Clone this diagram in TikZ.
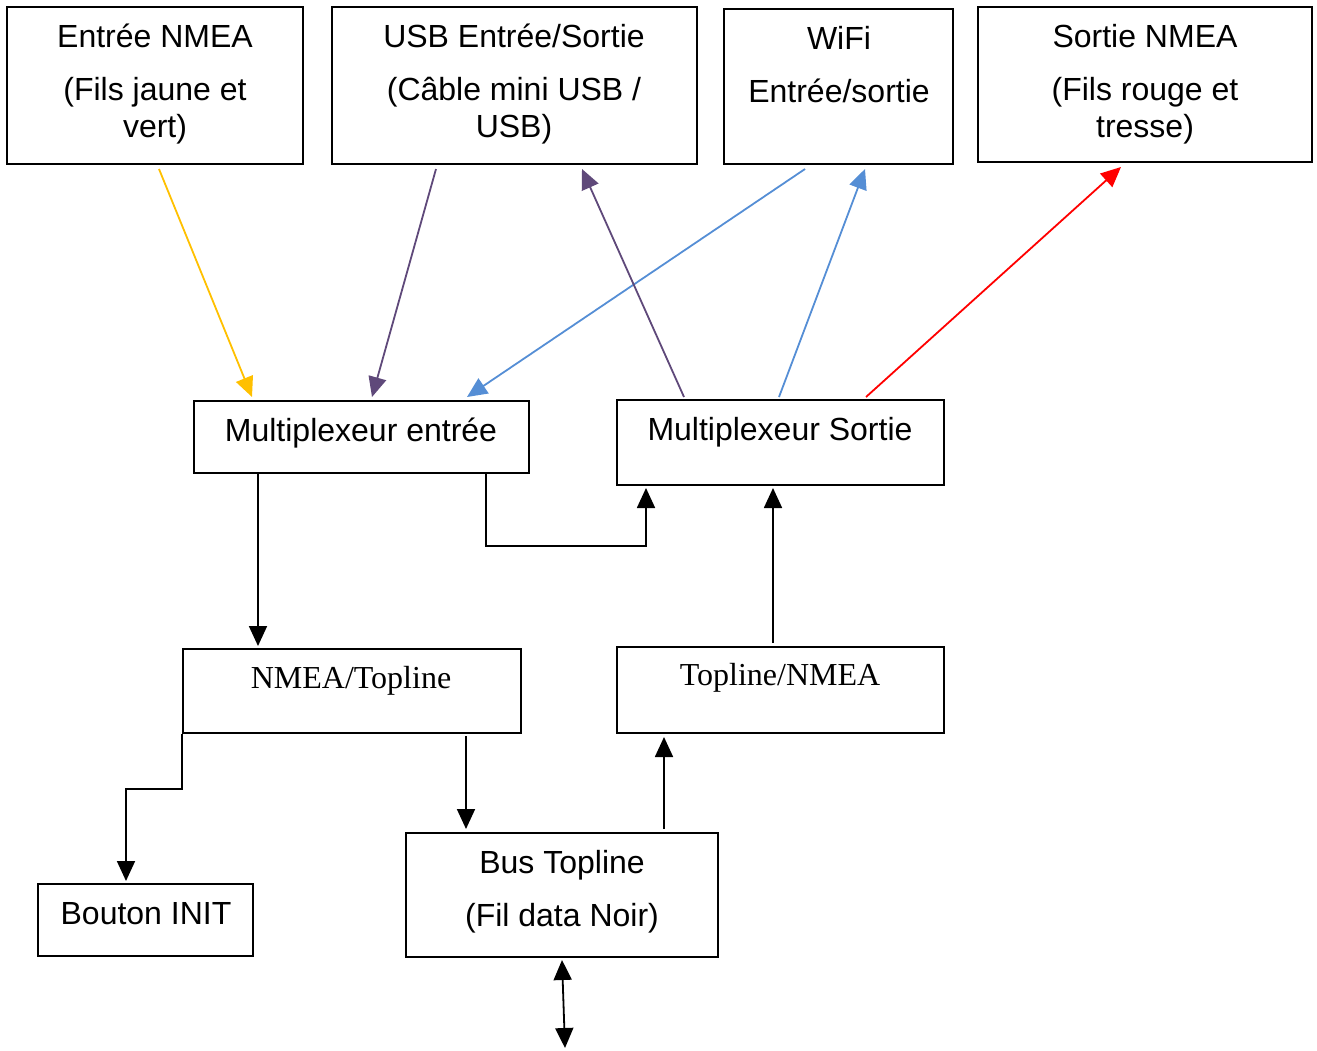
\documentclass[tikz,border=0pt]{standalone}
\usepackage{fontspec}
\setmainfont{Liberation Sans}
\newfontfamily\timesf{Liberation Serif}
\usetikzlibrary{arrows.meta,fit,calc}
\definecolor{yel}{HTML}{FFC000}
\definecolor{purp}{HTML}{5F497A}
\definecolor{blu}{HTML}{558ED5}
\definecolor{rd}{HTML}{FF0000}
\begin{document}
\begin{tikzpicture}[x=0.5pt,y=-0.5pt,
  box/.style={draw, line width=1pt, inner sep=0pt},
  txt/.style={anchor=base, font=\fontsize{16}{19}\selectfont, inner sep=0pt},
  ttxt/.style={anchor=base, font=\timesf\fontsize{16}{19}\selectfont, inner sep=0pt},
  arr/.style={line width=0.9pt, -{Triangle[length=10pt,width=9pt]}},
  darr/.style={line width=0.9pt, {Triangle[length=10pt,width=9pt]}-{Triangle[length=10pt,width=9pt]}}]
\useasboundingbox (0,0) rectangle (1317,1050);
% boxes
\node[box, fit={(7,7) (303,164)}] (b1) {};
\node[box, fit={(332,7) (697,164)}] (b2) {};
\node[box, fit={(724,9) (953,164)}] (b3) {};
\node[box, fit={(978,7) (1312,162)}] (b4) {};
\node[box, fit={(194,401) (529,473)}] (b5) {};
\node[box, fit={(617,400) (944,485)}] (b6) {};
\node[box, fit={(183,649) (521,733)}] (b7) {};
\node[box, fit={(617,647) (944,733)}] (b8) {};
\node[box, fit={(38,884) (253,956)}] (b9) {};
\node[box, fit={(406,833) (718,957)}] (b10) {};
% texts
\node[txt] (t1a) at (155,47) {Entrée NMEA};
\node[txt] (t1b) at (155,100) {(Fils jaune et};
\node[txt] (t1c) at (155,137) {vert)};
\node[txt] (t2a) at (514,47) {USB Entrée/Sortie};
\node[txt] (t2b) at (514,100) {(Câble mini USB /};
\node[txt] (t2c) at (514,137) {USB)};
\node[txt] (t3a) at (839,49) {WiFi};
\node[txt] (t3b) at (839,102) {Entrée/sortie};
\node[txt] (t4a) at (1145,47) {Sortie NMEA};
\node[txt] (t4b) at (1145,100) {(Fils rouge et};
\node[txt] (t4c) at (1145,137) {tresse)};
\node[txt] (t5) at (361,441) {Multiplexeur entrée};
\node[txt] (t6) at (780,440) {Multiplexeur Sortie};
\node[ttxt] (t7) at (351,688) {NMEA/Topline};
\node[ttxt] (t8) at (780,685) {Topline/NMEA};
\node[txt] (t9) at (146,924) {Bouton INIT};
\node[txt] (t10a) at (562,873) {Bus Topline};
\node[txt] (t10b) at (562,926) {(Fil data Noir)};
\coordinate (busend) at (565,1048);
% coloured connectors
\draw[arr, yel] ($(b1.south west)+(153,4)$) -- ($(b5.north west)+(59,-3)$);
\draw[arr, purp] ($(b2.south west)+(105,4)$) -- ($(b5.north west)+(179,-3)$);
\draw[arr, blu] ($(b3.south west)+(82,4)$) -- ($(b5.north west)+(274,-3)$);
\draw[arr, purp] ($(b6.north west)+(68,-2)$) -- ($(b2.south west)+(251,4)$);
\draw[arr, blu] ($(b6.north west)+(163,-2)$) -- ($(b3.south west)+(142,4)$);
\draw[arr, rd] ($(b6.north west)+(250,-2)$) -- ($(b4.south west)+(144,4)$);
% black connectors
\draw[arr] ($(b5.south west)+(65,0)$) -- ($(b7.north west)+(76,-2)$);
\draw[arr] ($(b5.south west)+(293,0)$) -- ++(0,72) -| ($(b6.south west)+(30,2)$);
\draw[arr] ($(b8.north west)+(157,-3)$) -- ($(b6.south west)+(157,2)$);
\draw[arr] (b7.south west) -- ++(0,55) -| ($(b9.north west)+(89,-2)$);
\draw[arr] ($(b7.south west)+(284,2)$) -- ($(b10.north west)+(61,-3)$);
\draw[arr] ($(b10.north west)+(259,-3)$) -- ($(b8.south west)+(48,3)$);
\draw[darr] ($(b10.south west)+(157,2)$) -- (busend);
\end{tikzpicture}
\end{document}
